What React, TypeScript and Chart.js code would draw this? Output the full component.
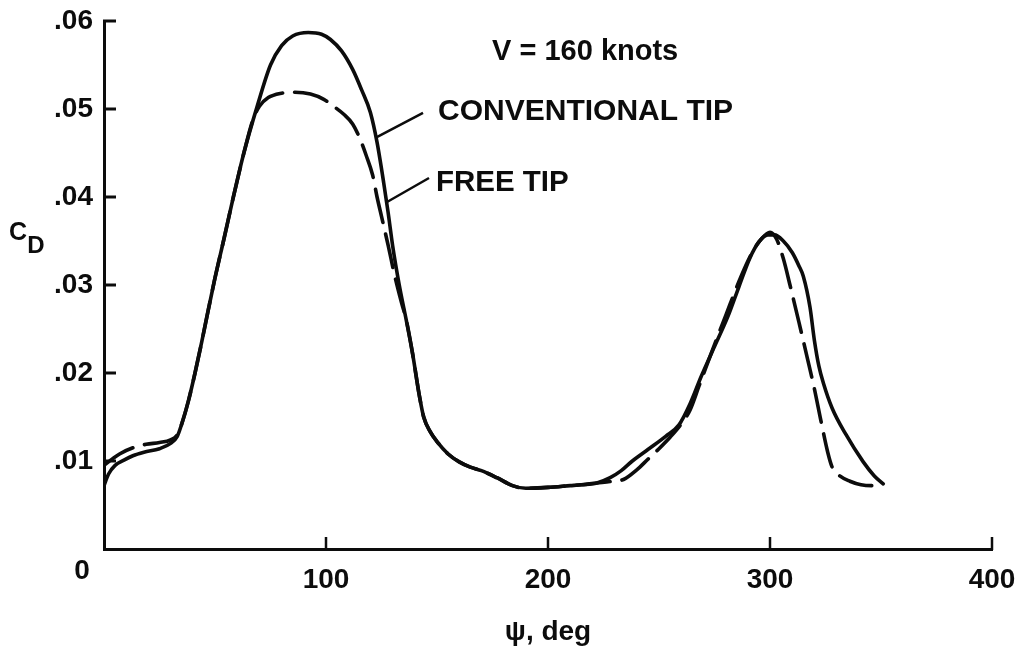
import React, { useEffect, useRef } from 'react';
import { Chart, registerables } from 'chart.js';

Chart.register(...registerables);

// ---- data ----
const psiConventional = [0, 2, 5, 9, 13, 18, 25, 30, 33, 35, 38, 41, 44, 47, 50, 54, 58, 63, 69, 75, 80, 85, 92, 98, 102, 107, 112, 116, 120, 123, 126, 128, 130, 133, 136, 139, 142, 144, 147, 150, 155, 160, 165, 170, 177, 184, 190, 200, 210, 215, 222, 228, 233, 238, 245, 253, 259, 264, 269, 275, 281, 286, 291, 295, 299, 302, 306, 310, 313, 315, 318, 320, 322, 324, 328, 334, 342, 347, 351];
const cdConventional = [0.0072, 0.0085, 0.0095, 0.0101, 0.0106, 0.011, 0.0114, 0.012, 0.0128, 0.0142, 0.0168, 0.02, 0.0235, 0.0272, 0.0308, 0.0352, 0.0397, 0.045, 0.0503, 0.055, 0.0572, 0.0583, 0.0587, 0.0585, 0.0579, 0.0566, 0.0545, 0.0522, 0.0496, 0.0462, 0.0416, 0.0382, 0.0345, 0.03, 0.0262, 0.0222, 0.0175, 0.015, 0.0133, 0.0122, 0.0108, 0.0099, 0.0093, 0.0089, 0.0081, 0.0072, 0.0069, 0.007, 0.0072, 0.0073, 0.0075, 0.0081, 0.0089, 0.01, 0.0113, 0.0128, 0.0141, 0.0165, 0.0196, 0.023, 0.0264, 0.0298, 0.0331, 0.0349, 0.0357, 0.0357, 0.035, 0.0337, 0.0322, 0.031, 0.0275, 0.0237, 0.0208, 0.0189, 0.016, 0.0131, 0.0099, 0.0083, 0.0074];

const psiFree = [0, 3, 7, 13, 19, 25, 30, 33, 35, 38, 41, 44, 47, 50, 54, 58, 63, 67, 70, 74, 80, 86, 93, 99, 104, 108, 112, 115, 118, 121, 123, 125, 128, 131, 134, 136, 139, 142, 144, 147, 150, 155, 160, 165, 170, 177, 184, 190, 200, 210, 215, 222, 229, 234, 240, 245, 250, 255, 260, 264, 268, 273, 280, 287, 292, 296, 300, 303, 306, 309, 313, 317, 320, 323, 326, 328, 331, 336, 341, 346, 351];
const cdFree = [0.0095, 0.0101, 0.0108, 0.0115, 0.0119, 0.0121, 0.0124, 0.013, 0.0142, 0.0168, 0.02, 0.0235, 0.0272, 0.0308, 0.0352, 0.0397, 0.045, 0.0487, 0.0503, 0.0513, 0.0518, 0.0519, 0.0517, 0.0511, 0.0502, 0.0494, 0.0483, 0.0468, 0.0448, 0.0425, 0.04, 0.0378, 0.0345, 0.031, 0.028, 0.0262, 0.0222, 0.0175, 0.015, 0.0133, 0.0122, 0.0108, 0.0099, 0.0093, 0.0089, 0.0081, 0.0072, 0.0069, 0.007, 0.0072, 0.0073, 0.0075, 0.0077, 0.0079, 0.009, 0.0102, 0.0114, 0.0127, 0.0142, 0.0158, 0.0185, 0.0219, 0.0265, 0.031, 0.0337, 0.0352, 0.036, 0.0352, 0.033, 0.03, 0.0258, 0.0215, 0.0182, 0.0145, 0.011, 0.0093, 0.0084, 0.0077, 0.0073, 0.0072, 0.0074];

const xTickValues = [100, 200, 300, 400];
const yTickValues = [0.01, 0.02, 0.03, 0.04, 0.05, 0.06];

const seriesNames = ['CONVENTIONAL TIP', 'FREE TIP'];
const speedLabel = 'V = 160 knots';
const xTitle = 'ψ, deg';
const yTitleMain = 'C';
const yTitleSub = 'D';

const FONT = "'Liberation Sans', Arial, Helvetica, sans-serif";
const INK = '#0c0c0c';

const toPts = (xs: number[], ys: number[]) => xs.map((x, i) => ({ x, y: ys[i] }));

const decorPlugin = {
  id: 'decor',
  afterDraw(chart: any) {
    const { ctx, chartArea } = chart;
    const xs = chart.scales.x;
    const ys = chart.scales.y;
    const X = (v: number) => xs.getPixelForValue(v);
    const Y = (v: number) => ys.getPixelForValue(v);
    ctx.save();
    ctx.strokeStyle = INK;
    ctx.fillStyle = INK;
    ctx.lineCap = 'butt';
    // inward tick marks
    ctx.lineWidth = 3;
    yTickValues.forEach((v) => {
      ctx.beginPath();
      ctx.moveTo(chartArea.left - 1, Y(v));
      ctx.lineTo(chartArea.left + 12, Y(v));
      ctx.stroke();
    });
    ctx.lineWidth = 2.5;
    xTickValues.forEach((v) => {
      ctx.beginPath();
      ctx.moveTo(X(v), chartArea.bottom + 1);
      ctx.lineTo(X(v), chartArea.bottom - 12);
      ctx.stroke();
    });
    // origin label
    ctx.font = `bold 28px ${FONT}`;
    ctx.textAlign = 'center';
    ctx.textBaseline = 'middle';
    ctx.fillText('0', X(0) - 22, Y(0) + 22);
    // y title C_D
    ctx.font = `bold 25px ${FONT}`;
    ctx.fillText(yTitleMain, chartArea.left - 86, Y(0.0359));
    ctx.font = `bold 24px ${FONT}`;
    ctx.fillText(yTitleSub, chartArea.left - 68, Y(0.0344));
    // annotations
    ctx.textAlign = 'left';
    ctx.font = `bold 29px ${FONT}`;
    ctx.fillText(speedLabel, X(174.8), Y(0.0565));
    ctx.font = `bold 30px ${FONT}`;
    ctx.fillText(seriesNames[0], X(150.5), Y(0.0497));
    ctx.font = `bold 29.5px ${FONT}`;
    ctx.fillText(seriesNames[1], X(149.5), Y(0.0416));
    // leader lines
    ctx.lineWidth = 2.5;
    ctx.beginPath();
    ctx.moveTo(X(143.7), Y(0.04955));
    ctx.lineTo(X(122.9), Y(0.0468));
    ctx.moveTo(X(146.4), Y(0.04216));
    ctx.lineTo(X(127.3), Y(0.0394));
    ctx.stroke();
    ctx.restore();
  },
};

export default function App() {
  const ref = useRef<HTMLCanvasElement | null>(null);
  useEffect(() => {
    if (!ref.current) return;
    const chart = new Chart(ref.current, {
      type: 'scatter',
      data: {
        datasets: [
          {
            label: seriesNames[1],
            data: toPts(psiFree, cdFree),
            showLine: true,
            borderColor: INK,
            backgroundColor: INK,
            borderWidth: 3.6,
            borderDash: [34, 12],
            borderCapStyle: 'round',
            borderJoinStyle: 'round',
            pointRadius: 0,
            cubicInterpolationMode: 'monotone',
          } as any,
          {
            label: seriesNames[0],
            data: toPts(psiConventional, cdConventional),
            showLine: true,
            borderColor: INK,
            backgroundColor: INK,
            borderWidth: 3.6,
            borderCapStyle: 'round',
            borderJoinStyle: 'round',
            pointRadius: 0,
            cubicInterpolationMode: 'monotone',
          } as any,
        ],
      },
      options: {
        animation: false,
        responsive: false,
        maintainAspectRatio: false,
        layout: { padding: { top: 21, right: 28, left: 0, bottom: 0 } },
        plugins: { legend: { display: false }, tooltip: { enabled: false } },
        scales: {
          x: {
            type: 'linear',
            min: 0,
            max: 400,
            ticks: {
              stepSize: 100,
              color: INK,
              padding: 14,
              maxRotation: 0,
              font: { family: FONT, size: 28, weight: 'bold' },
              callback: (v: any) => (v === 0 ? '' : String(v)),
            },
            grid: { display: true, drawOnChartArea: false, drawTicks: false, color: 'rgba(0,0,0,0)' },
            border: { display: true, color: INK, width: 3 },
            title: {
              display: true,
              text: xTitle,
              color: INK,
              font: { family: FONT, size: 28, weight: 'bold' },
              padding: { top: 0, bottom: 4 },
            },
            afterFit: (s: any) => {
              s.height = 104;
              s.paddingLeft = 0;
              s.paddingRight = 0;
            },
          },
          y: {
            type: 'linear',
            min: 0,
            max: 0.06,
            ticks: {
              stepSize: 0.01,
              color: INK,
              padding: 11,
              font: { family: FONT, size: 28, weight: 'bold' },
              callback: (v: any) => (Math.abs(v) < 1e-9 ? '' : Number(v).toFixed(2).replace(/^0/, '')),
            },
            grid: { display: true, drawOnChartArea: false, drawTicks: false, color: 'rgba(0,0,0,0)' },
            border: { display: true, color: INK, width: 3 },
            afterFit: (s: any) => {
              s.width = 104;
              s.paddingTop = 0;
              s.paddingBottom = 0;
            },
          },
        },
      } as any,
      plugins: [decorPlugin],
    });
    return () => chart.destroy();
  }, []);
  return (
    <div style={{ position: 'absolute', left: 0, top: 0, width: 1020, height: 653, background: '#fff' }}>
      <canvas ref={ref} width={1020} height={653} style={{ display: 'block' }} />
    </div>
  );
}
